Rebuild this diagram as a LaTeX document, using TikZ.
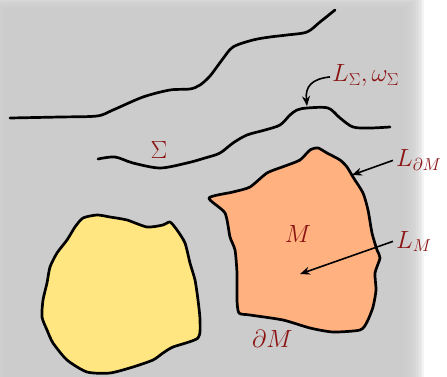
\documentclass[tikz,border=0pt]{standalone}
\usetikzlibrary{arrows.meta}
\definecolor{bggray}{RGB}{204,204,204}
\definecolor{labred}{RGB}{139,18,18}
\definecolor{regorange}{RGB}{255,178,128}
\definecolor{regyellow}{RGB}{255,230,128}
\tikzset{
  curveline/.style={line width=2.7pt, line join=round, line cap=round},
  region/.style={draw=black, line width=2.7pt, line join=round},
  lab/.style={text=labred, inner sep=0pt, font=\fontsize{26}{30}\selectfont},
  pointer/.style={line width=1.6pt, -{Stealth[length=10pt,width=8pt]}},
}
\begin{document}
\begin{tikzpicture}[x=1pt,y=-1pt]
\useasboundingbox (0,0) rectangle (447,377);
\fill[white] (0,0) rectangle (447,377);
% blurred gray background
\foreach \i in {0,...,19}{
  \pgfmathsetmacro{\t}{\i/19}
  \fill[bggray, opacity=0.2] ({-6+14*\t},{-6+22*\t}) rectangle ({424-30*\t},400);
}
\fill[bggray] (8,16) rectangle (394,400);

% top curve
\draw[curveline] plot[smooth, tension=0.5] coordinates {
 (10,118) (60,117) (97,116) (113,110) (143,97) (170,90) (190,89) (200,85)
 (210,76) (222,60) (233,47) (253,40) (270,37) (287,35) (307,32) (320,22) (335,10)};

% second curve
\draw[curveline] plot[smooth, tension=0.5] coordinates {
 (98,159) (115,157) (133,163) (160,168) (187,163) (205,158) (220,153) (233,143)
 (247,135) (265,130) (280,125) (290,115) (297,110) (307,108) (328,108) (340,118)
 (353,127) (370,128) (390,127)};

% orange region M
\filldraw[region, fill=regorange] plot[smooth cycle, tension=0.4] coordinates {
 (209,198) (233,192) (250,187) (267,173) (285,166) (300,160) (310,150) (318,148)
 (327,153) (340,160) (347,167) (353,177) (363,193) (368,210) (372,233) (377,250)
 (380,258) (375,273) (376,290) (373,307) (367,322) (360,330) (333,332) (310,328)
 (283,320) (250,315) (239,313) (237,300) (237,273) (235,250) (230,237) (225,213)};

% yellow region
\filldraw[region, fill=regyellow] plot[smooth cycle, tension=0.4] coordinates {
 (170,222) (163,225) (147,227) (127,220) (110,217) (97,215) (83,218) (75,227)
 (67,240) (57,253) (50,267) (47,283) (43,300) (42,317) (47,330) (53,343)
 (67,360) (87,372) (110,373) (133,367) (153,360) (163,353) (173,347) (198,338)
 (200,320) (198,300) (195,280) (190,263) (185,243) (177,230)};

% labels
\node[lab, anchor=base west] (lsig) at (332,82) {$L_\Sigma,\omega_\Sigma$};
\node[lab, anchor=base west] (ldm) at (396,167) {$L_{\partial M}$};
\node[lab, anchor=base west] (lm) at (396,248) {$L_M$};
\node[lab] (m) at (298,234) {$M$};
\node[lab, anchor=base west] (dm) at (252,347) {$\partial M$};
\node[lab] (sig) at (159,150) {$\Sigma$};

% pointer targets
\coordinate (tsig) at (307,106);
\coordinate (tdm) at (352,175);
\coordinate (tm) at (300,274);

\draw[pointer] ([xshift=-2pt,yshift=-1pt]lsig.west) .. controls +(-18,2) and (305,86) .. (tsig);
\draw[pointer] ([xshift=-3pt]ldm.west) -- (tdm);
\draw[pointer] ([xshift=-3pt]lm.west) -- (tm);
\end{tikzpicture}
\end{document}
